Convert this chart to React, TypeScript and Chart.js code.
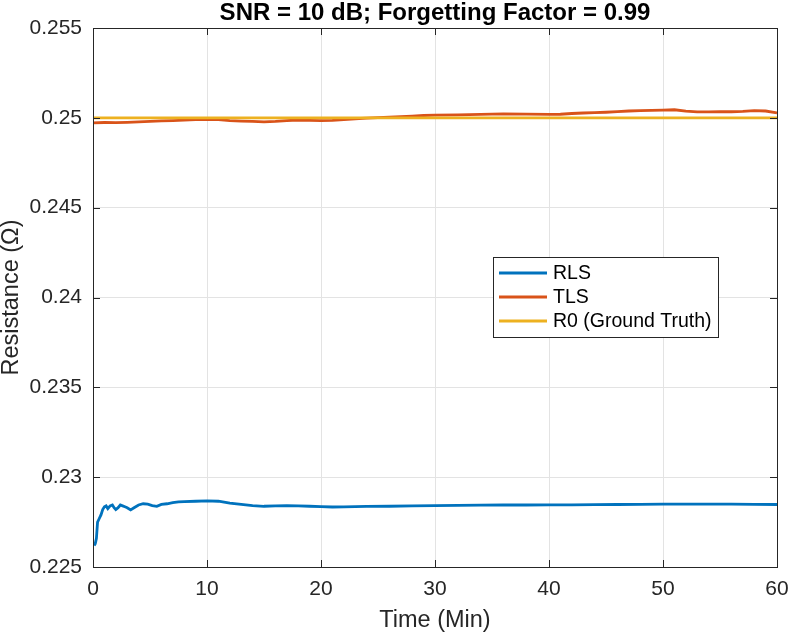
import React, { useEffect, useRef } from 'react';
import { Chart, registerables } from 'chart.js';

Chart.register(...registerables);

// time axis (min) and resistance estimates (ohm)
const rlsTime = [0.1, 0.2, 0.3, 0.4, 0.55, 0.7, 0.85, 1.0, 1.15, 1.3, 1.5, 1.7, 1.85, 2.0, 2.2, 2.4, 2.6, 2.8, 3.0, 3.3, 3.6, 4.0, 4.4, 4.8, 5.2, 5.6, 6.0, 6.5, 7.0, 7.5, 8, 9, 10, 11, 12, 13, 14, 15, 16, 17, 18, 19, 20, 21, 22, 24, 26, 28, 30, 32, 34, 36, 38, 40, 42, 44, 46, 48, 50, 52, 54, 56, 58, 60];
const rlsValues = [0.2262, 0.2263, 0.2266, 0.2275, 0.2277, 0.2279, 0.2282, 0.22835, 0.2284, 0.22825, 0.2284, 0.22845, 0.2283, 0.2282, 0.2283, 0.22845, 0.2284, 0.22835, 0.2283, 0.22818, 0.2283, 0.22845, 0.22852, 0.2285, 0.22842, 0.22838, 0.22848, 0.22852, 0.22858, 0.22862, 0.22864, 0.22866, 0.22868, 0.22866, 0.22855, 0.22848, 0.22842, 0.22838, 0.2284, 0.22841, 0.2284, 0.22838, 0.22836, 0.22834, 0.22835, 0.22837, 0.22838, 0.2284, 0.22842, 0.22843, 0.22844, 0.22845, 0.22845, 0.22846, 0.22846, 0.22847, 0.22848, 0.22849, 0.2285, 0.2285, 0.2285, 0.2285, 0.22849, 0.22848];

const tlsTime = [0, 1, 2, 3, 4, 5, 6, 7, 8, 9, 10, 11, 12, 13, 14, 15, 16, 17, 18, 19, 20, 21, 22, 23, 24, 25, 26, 27, 28, 29, 30, 32, 34, 36, 38, 40, 41, 42, 43, 44, 45, 46, 47, 48, 49, 50, 51, 52, 53, 54, 55, 56, 57, 58, 59, 60];
const tlsValues = [0.24972, 0.24974, 0.24973, 0.24975, 0.24978, 0.2498, 0.24983, 0.24985, 0.24987, 0.2499, 0.24992, 0.2499, 0.24985, 0.24982, 0.2498, 0.24977, 0.2498, 0.24985, 0.24988, 0.24986, 0.24984, 0.24986, 0.2499, 0.24995, 0.24998, 0.25001, 0.25004, 0.25007, 0.2501, 0.25013, 0.25015, 0.25017, 0.25019, 0.25022, 0.25021, 0.25019, 0.2502, 0.25024, 0.25027, 0.25029, 0.25031, 0.25034, 0.25038, 0.2504, 0.25041, 0.25043, 0.25045, 0.25037, 0.25033, 0.25033, 0.25035, 0.25034, 0.25036, 0.2504, 0.25038, 0.25028];

const r0Time = [0, 60];
const r0Values = [0.25, 0.25];

const seriesLabels = ['RLS', 'TLS', 'R0 (Ground Truth)'];
const seriesColors = ['#0072BD', '#D95319', '#EDB120'];

const xTicks = [0, 10, 20, 30, 40, 50, 60];
const yTicks = [0.225, 0.23, 0.235, 0.24, 0.245, 0.25, 0.255];

const titleText = 'SNR = 10 dB; Forgetting Factor = 0.99';
const FONT = '"Liberation Sans", Arial, Helvetica, sans-serif';
const AXIS_COLOR = '#262626';

const toPoints = (xs: number[], ys: number[]) => xs.map((x, i) => ({ x, y: ys[i] }));

// box, inward ticks, title and in-plot legend, matlab style
const matlabFrame = {
  id: 'matlabFrame',
  afterDatasetsDraw(chart: any) {
    const { ctx, chartArea: a, scales } = chart;
    const tl = 7;
    ctx.save();
    ctx.strokeStyle = AXIS_COLOR;
    ctx.lineWidth = 1;
    ctx.beginPath();
    xTicks.forEach((t) => {
      const px = Math.round(scales.x.getPixelForValue(t)) + 0.5;
      ctx.moveTo(px, a.bottom);
      ctx.lineTo(px, a.bottom - tl);
      ctx.moveTo(px, a.top);
      ctx.lineTo(px, a.top + tl);
    });
    yTicks.forEach((t) => {
      const py = Math.round(scales.y.getPixelForValue(t)) + 0.5;
      ctx.moveTo(a.left, py);
      ctx.lineTo(a.left + tl, py);
      ctx.moveTo(a.right, py);
      ctx.lineTo(a.right - tl, py);
    });
    ctx.stroke();
    ctx.strokeRect(Math.round(a.left) + 0.5, Math.round(a.top) + 0.5, Math.round(a.right - a.left), Math.round(a.bottom - a.top));

    // title
    ctx.fillStyle = '#000';
    ctx.font = `bold 24px ${FONT}`;
    ctx.textAlign = 'center';
    ctx.textBaseline = 'middle';
    ctx.fillText(titleText, (a.left + a.right) / 2, 13);

    // legend
    const lx = 493, ly = 257, lw = 225, lh = 80;
    ctx.fillStyle = '#fff';
    ctx.fillRect(lx, ly, lw, lh);
    ctx.strokeStyle = AXIS_COLOR;
    ctx.strokeRect(lx + 0.5, ly + 0.5, lw, lh);
    ctx.font = `19.5px ${FONT}`;
    ctx.textAlign = 'left';
    seriesLabels.forEach((lab, i) => {
      const y = ly + 16 + i * 24;
      ctx.strokeStyle = seriesColors[i];
      ctx.lineWidth = 3;
      ctx.beginPath();
      ctx.moveTo(lx + 6, y);
      ctx.lineTo(lx + 54, y);
      ctx.stroke();
      ctx.fillStyle = '#000';
      ctx.fillText(lab, lx + 60, y + 1);
    });
    ctx.restore();
  },
};

const App: React.FC = () => {
  const canvasRef = useRef<HTMLCanvasElement | null>(null);
  const chartRef = useRef<Chart | null>(null);

  useEffect(() => {
    if (!canvasRef.current) return;
    const ctx = canvasRef.current.getContext('2d');
    if (!ctx) return;
    if (chartRef.current) chartRef.current.destroy();

    const xs = [rlsTime, tlsTime, r0Time];
    const ys = [rlsValues, tlsValues, r0Values];

    chartRef.current = new Chart(ctx, {
      type: 'line',
      data: {
        datasets: seriesLabels.map((label, i) => ({
          label,
          data: toPoints(xs[i], ys[i]),
          borderColor: seriesColors[i],
          backgroundColor: seriesColors[i],
          borderWidth: 2.8,
          pointRadius: 0,
          tension: 0,
          order: 2 - i,
        })),
      },
      options: {
        animation: false,
        responsive: true,
        maintainAspectRatio: false,
        layout: { padding: { top: 28, right: 12, left: 0, bottom: 0 } },
        plugins: {
          legend: { display: false },
          title: { display: false },
          tooltip: { enabled: false },
        },
        scales: {
          x: {
            type: 'linear',
            min: 0,
            max: 60,
            afterBuildTicks: (s: any) => { s.ticks = xTicks.map((v) => ({ value: v })); },
            afterFit: (s: any) => { s.height = 65; s.paddingLeft = 0; s.paddingRight = 0; },
            border: { display: false },
            grid: { color: '#e3e3e3', drawTicks: false },
            ticks: { color: AXIS_COLOR, padding: 10, font: { family: FONT, size: 21 }, maxRotation: 0 },
            title: {
              display: true,
              text: 'Time (Min)',
              color: AXIS_COLOR,
              font: { family: FONT, size: 23.5, lineHeight: 1 },
              padding: { top: 4, bottom: 0 },
            },
          },
          y: {
            type: 'linear',
            min: 0.225,
            max: 0.255,
            afterBuildTicks: (s: any) => { s.ticks = yTicks.map((v) => ({ value: v })); },
            afterFit: (s: any) => { s.width = 93; s.paddingTop = 0; s.paddingBottom = 0; },
            border: { display: false },
            grid: { color: '#e3e3e3', drawTicks: false },
            ticks: {
              color: AXIS_COLOR,
              padding: 11,
              font: { family: FONT, size: 21 },
              callback: (v: any) => String(Number(Number(v).toFixed(3))),
            },
            title: {
              display: true,
              text: 'Resistance (Ω)',
              color: AXIS_COLOR,
              font: { family: FONT, size: 23.5, lineHeight: 1 },
              padding: { top: 0, bottom: 0 },
            },
          },
        },
      },
      plugins: [matlabFrame],
    });

    return () => {
      if (chartRef.current) {
        chartRef.current.destroy();
        chartRef.current = null;
      }
    };
  }, []);

  return (
    <div style={{ position: 'fixed', left: 0, top: 0, width: 789, height: 632, background: '#fff' }}>
      <canvas ref={canvasRef}></canvas>
    </div>
  );
};

export default App;
